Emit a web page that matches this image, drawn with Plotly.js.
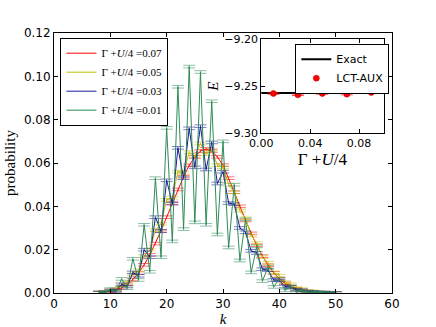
<!DOCTYPE html>
<html>
<head>
<meta charset="utf-8">
<script src="https://cdn.plot.ly/plotly-3.0.1.min.js"></script>
<style>
  html, body { margin: 0; padding: 0; background: #fff; }
  #chart { width: 436px; height: 327px; }
</style>
</head>
<body>
<div id="chart"></div>
<script>
// k values shared by all distributions
const kValues = [8, 9, 10, 11, 12, 13, 14, 15, 16, 17, 18, 19, 20, 21, 22, 23, 24, 25, 26, 27, 28,
                 29, 30, 31, 32, 33, 34, 35, 36, 37, 38, 39, 40, 41, 42, 43, 44, 45, 46, 47, 48, 49, 50];

// probability for each Γ + U/4 value
const prob007 = [0.0002, 0.0004, 0.0008, 0.0014, 0.0024, 0.0040, 0.0062, 0.0092, 0.0130, 0.0176, 0.0228,
                 0.0287, 0.0350, 0.0415, 0.0478, 0.0537, 0.0589, 0.0628, 0.0655, 0.0665, 0.0655,
                 0.0628, 0.0590, 0.0530, 0.0465, 0.0400, 0.0335, 0.0275, 0.0220, 0.0170, 0.0128,
                 0.0093, 0.0066, 0.0045, 0.0030, 0.0019, 0.0012, 0.0007, 0.0004, 0.0002, 0.0001, 0.0001, 0.0000];
const prob005 = [0.0003, 0.0005, 0.0012, 0.0018, 0.0035, 0.0048, 0.0085, 0.0105, 0.0170, 0.0200, 0.0290,
                 0.0320, 0.0430, 0.0440, 0.0560, 0.0555, 0.0650, 0.0630, 0.0690, 0.0640, 0.0660,
                 0.0590, 0.0580, 0.0500, 0.0465, 0.0380, 0.0345, 0.0265, 0.0230, 0.0165, 0.0140,
                 0.0095, 0.0080, 0.0050, 0.0040, 0.0023, 0.0018, 0.0009, 0.0007, 0.0003, 0.0002, 0.0001, 0.0000];
const prob003 = [0.0002, 0.0003, 0.0012, 0.0010, 0.0040, 0.0030, 0.0095, 0.0080, 0.0200, 0.0165, 0.0350,
                 0.0285, 0.0520, 0.0412, 0.0670, 0.0530, 0.0760, 0.0580, 0.0770, 0.0570, 0.0695,
                 0.0505, 0.0560, 0.0415, 0.0410, 0.0300, 0.0280, 0.0195, 0.0185, 0.0110, 0.0105,
                 0.0060, 0.0058, 0.0030, 0.0028, 0.0014, 0.0012, 0.0006, 0.0005, 0.0002, 0.0002, 0.0001, 0.0000];
const prob001 = [0.0002, 0.0001, 0.0018, 0.0005, 0.0065, 0.0022, 0.0158, 0.0060, 0.0315, 0.0098, 0.0530,
                 0.0165, 0.0762, 0.0238, 0.0952, 0.0295, 0.1045, 0.0326, 0.1020, 0.0315, 0.0885,
                 0.0270, 0.0700, 0.0210, 0.0500, 0.0150, 0.0340, 0.0095, 0.0215, 0.0055, 0.0120,
                 0.0028, 0.0065, 0.0012, 0.0030, 0.0005, 0.0012, 0.0002, 0.0004, 0.0001, 0.0001, 0.0000, 0.0000];
const probError = 0.0006;

const seriesNames = ['0.07', '0.05', '0.03', '0.01'];
const seriesProbs = [prob007, prob005, prob003, prob001];
const seriesColors = ['#ff0000', '#bfbf00', '#1a1a9a', '#2e8b57'];
const capColors = ['rgba(255,0,0,0.55)', 'rgba(191,191,0,0.55)', 'rgba(26,26,154,0.55)', 'rgba(46,139,87,0.55)'];

// inset: ground-state energy vs Γ + U/4
const insetX = [0.01, 0.03, 0.05, 0.07, 0.09];
const insetE = [-9.2579, -9.2593, -9.2579, -9.2586, -9.2568];
const insetErr = [0.0008, 0.0008, 0.0008, 0.0008, 0.0008];
const exactX = [0, 0.1];
const exactE = [-9.2574, -9.2574];

const serif = 'Liberation Serif, DejaVu Serif, serif';
const sans = 'DejaVu Sans, sans-serif';

const traces = seriesProbs.map((p, i) => ({
    x: kValues,
    y: p,
    type: 'scatter',
    mode: 'lines',
    name: 'Γ +<i>U</i>/4 =' + seriesNames[i],
    line: { color: seriesColors[i], width: 1 },
    error_y: { type: 'constant', value: probError, color: capColors[i], thickness: 1, width: 6 },
    xaxis: 'x', yaxis: 'y',
    legend: 'legend',
}));

traces.push({
    x: exactX,
    y: exactE,
    type: 'scatter',
    mode: 'lines',
    name: 'Exact',
    line: { color: '#000000', width: 2 },
    xaxis: 'x2', yaxis: 'y2',
    legend: 'legend2',
});
traces.push({
    x: insetX,
    y: insetE,
    type: 'scatter',
    mode: 'markers',
    name: 'LCT-AUX',
    marker: { color: '#ff0000', size: 6, line: { color: '#aa0000', width: 0.5 } },
    error_y: { type: 'data', array: insetErr, color: 'rgba(255,0,0,0.7)', thickness: 1, width: 6 },
    xaxis: 'x2', yaxis: 'y2',
    legend: 'legend2',
});

const axisBase = {
    showgrid: false,
    zeroline: false,
    showline: true,
    linecolor: '#000000',
    linewidth: 1,
    mirror: 'ticks',
    ticks: 'inside',
    ticklen: 4,
    tickcolor: '#000000',
};

const layout = {
    width: 436,
    height: 327,
    margin: { l: 54, r: 44, t: 33, b: 34 },
    paper_bgcolor: '#ffffff',
    plot_bgcolor: '#ffffff',
    font: { family: sans, size: 12, color: '#000000' },
    showlegend: true,
    xaxis: Object.assign({}, axisBase, {
        domain: [0, 1], anchor: 'y',
        range: [0, 60], dtick: 10,
        tickfont: { family: sans, size: 12 },
        title: { text: '<i>k</i>', font: { family: serif, size: 15 }, standoff: 0 },
    }),
    yaxis: Object.assign({}, axisBase, {
        domain: [0, 1], anchor: 'x',
        range: [0, 0.12], dtick: 0.02, tickformat: '.2f',
        tickfont: { family: sans, size: 12 },
        title: { text: 'probability', font: { family: serif, size: 15 }, standoff: 4 },
    }),
    xaxis2: Object.assign({}, axisBase, {
        domain: [0.613, 0.975], anchor: 'y2',
        range: [0, 0.1], tickvals: [0, 0.04, 0.08], tickformat: '.2f',
        tickfont: { family: sans, size: 11 },
        title: { text: 'Γ +<i>U</i>/4', font: { family: serif, size: 17 }, standoff: 0 },
    }),
    yaxis2: Object.assign({}, axisBase, {
        domain: [0.615, 0.977], anchor: 'x2',
        range: [-9.30, -9.20], tickvals: [-9.30, -9.25, -9.20], tickformat: '.2f',
        tickfont: { family: sans, size: 11 },
        title: { text: '<i>E</i>', font: { family: serif, size: 15 }, standoff: 2 },
    }),
    legend: {
        x: 0.019, y: 0.982, xanchor: 'left', yanchor: 'top',
        bgcolor: '#ffffff', bordercolor: '#000000', borderwidth: 1,
        font: { family: serif, size: 11 },
        tracegroupgap: 0, itemwidth: 30,
    },
    legend2: {
        x: 0.714, y: 0.959, xanchor: 'left', yanchor: 'top',
        bgcolor: '#ffffff', bordercolor: '#000000', borderwidth: 1,
        font: { family: sans, size: 11 },
        tracegroupgap: 0, itemwidth: 30,
    },
};

Plotly.newPlot('chart', traces, layout, { displayModeBar: false, staticPlot: true });
</script>
</body>
</html>
